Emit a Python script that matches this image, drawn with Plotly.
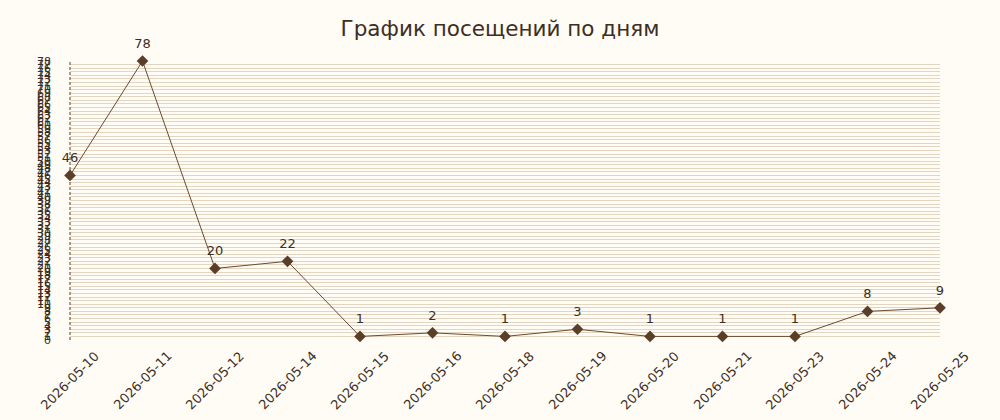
import plotly.graph_objects as go

dates = ["2026-05-10", "2026-05-11", "2026-05-12", "2026-05-14", "2026-05-15",
         "2026-05-16", "2026-05-18", "2026-05-19", "2026-05-20", "2026-05-21",
         "2026-05-23", "2026-05-24", "2026-05-25"]
visits = [46, 78, 20, 22, 1, 2, 1, 3, 1, 1, 1, 8, 9]
title_text = "График посещений по дням"

fig = go.Figure()
fig.add_trace(go.Scatter(
    x=dates, y=visits, mode="lines+markers",
    line=dict(color="#6b4a30", width=1),
    marker=dict(symbol="diamond", size=9, color="#5a3e28"),
    cliponaxis=False, hoverinfo="skip",
))
fig.add_trace(go.Scatter(
    x=dates, y=visits, mode="markers+text",
    text=[str(v) for v in visits], textposition="top center",
    textfont=dict(size=13, color="#3d2e22", family="DejaVu Sans"),
    marker=dict(size=14, color="rgba(0,0,0,0)"),
    cliponaxis=False, hoverinfo="skip",
))
for d in dates:
    fig.add_annotation(x=d, y=-0.145, xref="x", yref="paper", text=d,
                       textangle=-45, showarrow=False, xanchor="center", yanchor="middle",
                       font=dict(size=13, color="#3d2e22", family="DejaVu Sans"))
fig.update_layout(
    width=1000, height=420,
    margin=dict(l=70, r=60, t=61, b=80),
    paper_bgcolor="#fffbf5", plot_bgcolor="#fffbf5",
    font=dict(family="DejaVu Sans", color="#3d2e22"),
    title=dict(text=title_text, x=0.5, xanchor="center", y=0.933, yanchor="middle",
               font=dict(size=21.5, color="#3d2e22")),
    showlegend=False,
)
fig.update_xaxes(type="category", range=[0, len(dates) - 1], showgrid=False,
                 showticklabels=False, showline=False, zeroline=False, ticks="")
fig.update_yaxes(range=[0, 78], dtick=1, tick0=0, showgrid=True, gridcolor="#e3d5bf",
                 gridwidth=1, tickfont=dict(size=11, color="#3d2e22"),
                 ticklabelstandoff=18, showline=False, zeroline=False, ticks="")
fig.add_shape(type="line", xref="paper", yref="paper", x0=0, x1=0, y0=0, y1=1,
              line=dict(color="#5a3e28", width=1, dash="3px,2px"))
fig.write_html("out.html", config={"displayModeBar": False},
               post_script="document.body.style.margin='0';document.body.style.overflow='hidden';")
